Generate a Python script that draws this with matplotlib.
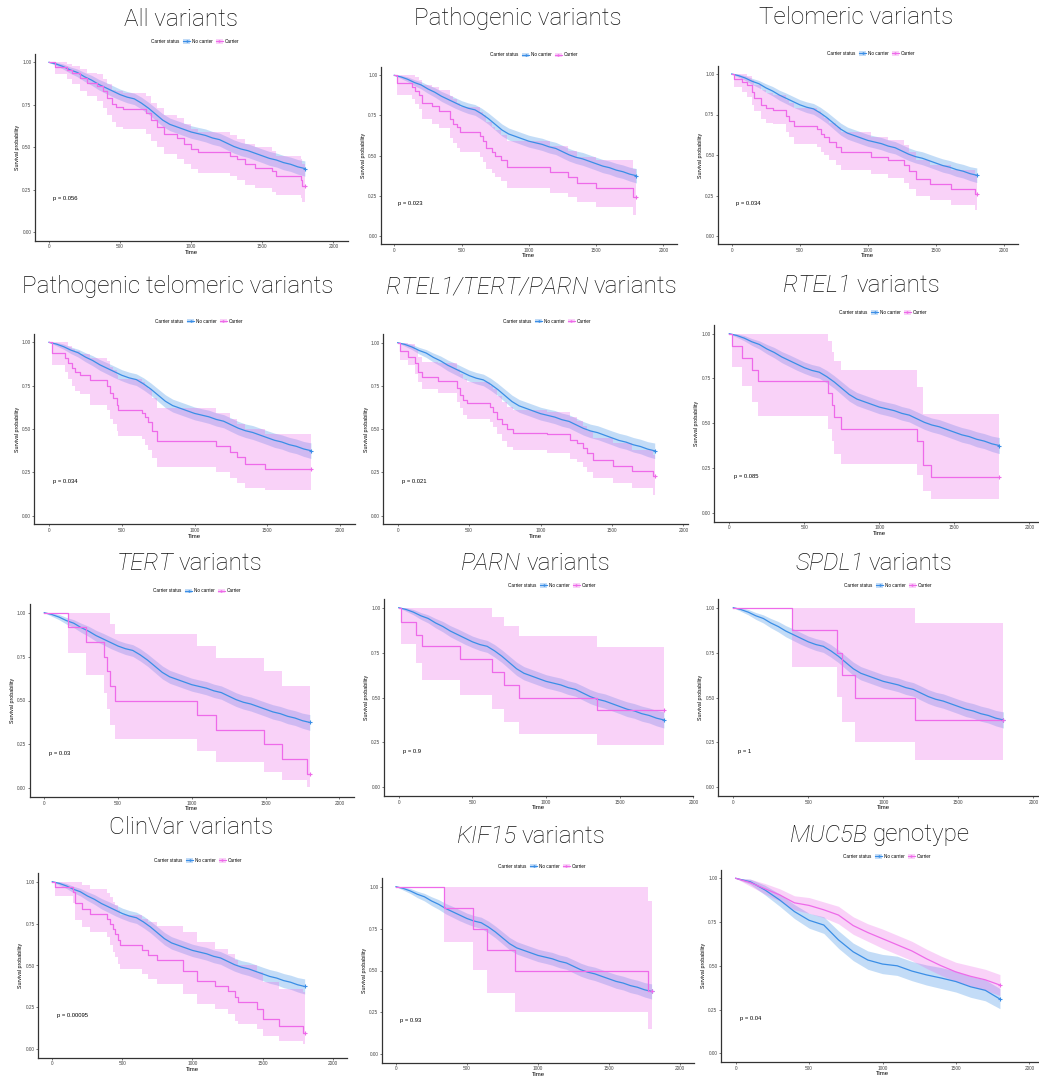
import matplotlib
matplotlib.use('Agg')
import matplotlib.pyplot as plt
from matplotlib.patches import Patch
from matplotlib.lines import Line2D

plt.rcParams['font.family'] = ['Liberation Sans', 'DejaVu Sans']

BLUE = '#3a8ee6'
PINK = '#ee6ae9'
T_END = 1800
TITLE_FONT = 'Roboto'

# ---- data ----
# title = italic gene part + plain part
TITLE_IT = ['', '', '', '', 'RTEL1/TERT/PARN', 'RTEL1', 'TERT', 'PARN', 'SPDL1', '', 'KIF15', 'MUC5B']
TITLE_RM = ['All variants', 'Pathogenic variants', 'Telomeric variants',
            'Pathogenic telomeric variants', 'variants', 'variants', 'variants', 'variants',
            'variants', 'ClinVar variants', 'variants', 'genotype']
P_VALUES = ['0.056', '0.023', '0.034', '0.034', '0.021', '0.085',
            '0.03', '0.9', '1', '0.00095', '0.93', '0.04']

# no carrier (nearly the same in the first 11 panels)
NC_T = [0, 50, 100, 150, 200, 250, 300, 350, 400, 450, 500, 550, 600, 650, 700, 750, 800, 850, 900,
        950, 1000, 1050, 1100, 1150, 1200, 1250, 1300, 1350, 1400, 1450, 1500, 1550, 1600, 1650,
        1700, 1750, 1800]
NC_S = [1.00, 0.99, 0.975, 0.955, 0.94, 0.915, 0.895, 0.87, 0.85, 0.83, 0.81, 0.795, 0.785, 0.76,
        0.73, 0.695, 0.66, 0.635, 0.62, 0.605, 0.59, 0.58, 0.57, 0.555, 0.545, 0.525, 0.505, 0.49,
        0.48, 0.465, 0.45, 0.435, 0.425, 0.41, 0.40, 0.385, 0.375]
NC_LO = [1.00, 0.98, 0.96, 0.935, 0.915, 0.888, 0.865, 0.838, 0.817, 0.796, 0.778, 0.762, 0.751,
         0.725, 0.695, 0.659, 0.623, 0.598, 0.583, 0.568, 0.553, 0.543, 0.532, 0.517, 0.507, 0.486,
         0.466, 0.451, 0.44, 0.425, 0.41, 0.394, 0.384, 0.368, 0.358, 0.342, 0.33]
NC_HI = [1.00, 1.00, 0.99, 0.973, 0.96, 0.94, 0.923, 0.90, 0.882, 0.862, 0.842, 0.828, 0.818,
         0.795, 0.765, 0.731, 0.697, 0.672, 0.657, 0.642, 0.627, 0.617, 0.608, 0.593, 0.583, 0.564,
         0.544, 0.529, 0.52, 0.505, 0.49, 0.476, 0.466, 0.452, 0.442, 0.428, 0.42]

ALL_T = [0, 40, 130, 160, 220, 270, 340, 380, 410, 440, 470, 520, 680, 720, 760, 810, 900, 950,
         1000, 1050, 1270, 1320, 1380, 1450, 1570, 1600, 1770, 1780]
ALL_S = [1.00, .975, .955, .935, .905, .88, .86, .83, .79, .755, .735, .725, .70, .66, .62, .58,
         .555, .52, .49, .47, .45, .43, .40, .38, .36, .33, .31, .27]
ALL_LO = [1.00, .93, .90, .87, .83, .80, .77, .73, .69, .65, .62, .61, .58, .54, .50, .46, .43,
          .40, .37, .35, .33, .31, .28, .26, .24, .22, .20, .18]
ALL_HI = [1.00, 1.00, .99, .98, .96, .94, .93, .90, .87, .84, .83, .82, .80, .76, .73, .69, .67,
          .64, .61, .59, .57, .55, .52, .50, .48, .45, .43, .40]

PATH_T = [0, 22, 130, 155, 180, 205, 280, 330, 415, 440, 465, 490, 640, 660, 685, 725, 750, 790,
          840, 1160, 1290, 1360, 1500, 1775]
PATH_S = [1.0, .95, .93, .905, .88, .83, .81, .78, .73, .70, .68, .65, .62, .59, .55, .52, .50,
          .47, .43, .40, .37, .33, .30, .24]
PATH_LO = [1.0, .88, .85, .82, .79, .73, .70, .67, .61, .58, .55, .52, .49, .46, .42, .39, .37,
           .34, .30, .27, .24, .21, .18, .13]
PATH_HI = [1.0, 1.0, 1.0, .99, .97, .94, .93, .91, .87, .85, .83, .80, .77, .75, .71, .68, .66,
           .63, .59, .56, .53, .49, .47, .42]

TEL_T = [0, 17, 78, 115, 150, 165, 213, 250, 300, 397, 421, 458, 630, 654, 678, 715, 764, 800,
         1020, 1145, 1265, 1300, 1350, 1460, 1610, 1790]
TEL_S = [1.0, .97, .95, .93, .89, .85, .81, .79, .78, .74, .71, .68, .66, .63, .61, .58, .55, .52,
         .49, .47, .44, .40, .35, .32, .29, .26]
TEL_LO = [1.0, .92, .89, .86, .81, .77, .72, .70, .69, .64, .61, .57, .55, .52, .50, .47, .44,
          .41, .38, .36, .33, .29, .25, .22, .19, .16]
TEL_HI = [1.0, 1.0, 1.0, .99, .96, .93, .90, .88, .87, .84, .82, .79, .77, .75, .73, .70, .67,
          .64, .61, .59, .56, .52, .47, .44, .41, .38]

PTEL_T = [0, 18, 110, 133, 156, 179, 213, 282, 396, 419, 442, 465, 476, 637, 660, 683, 706, 740,
          1150, 1245, 1290, 1345, 1485]
PTEL_S = [1.0, .94, .91, .88, .85, .83, .81, .78, .75, .71, .68, .64, .61, .59, .57, .54, .49,
          .43, .40, .37, .34, .30, .27]
PTEL_LO = [1.0, .87, .83, .79, .75, .72, .70, .64, .61, .56, .53, .49, .46, .44, .41, .38, .33,
           .28, .25, .22, .19, .16, .15]
PTEL_HI = [1.0, 1.0, 1.0, .98, .96, .95, .93, .91, .89, .86, .84, .81, .79, .77, .75, .73, .68,
           .62, .59, .56, .53, .50, .47]

RTP_T = [0, 16, 75, 121, 145, 168, 285, 413, 436, 460, 483, 646, 670, 693, 728, 763, 810, 1043,
         1207, 1253, 1300, 1323, 1370, 1510, 1638, 1790]
RTP_S = [1.0, .95, .92, .88, .83, .80, .78, .74, .70, .67, .65, .63, .60, .56, .53, .50, .48, .47,
         .44, .42, .39, .36, .32, .29, .26, .23]
RTP_LO = [1.0, .90, .87, .82, .77, .73, .71, .66, .62, .58, .56, .54, .51, .47, .43, .40, .38,
          .36, .33, .31, .28, .25, .22, .19, .16, .12]
RTP_HI = [1.0, 1.0, .99, .96, .92, .89, .88, .85, .82, .79, .77, .75, .73, .69, .66, .63, .61,
          .60, .57, .55, .52, .49, .45, .42, .38, .35]

RTEL_T = [0, 16, 82, 149, 193, 660, 682, 698, 742, 1249, 1289, 1342]
RTEL_S = [1.0, .93, .865, .80, .733, .667, .60, .533, .467, .40, .267, .20]
RTEL_LO = [1.0, .815, .71, .62, .54, .47, .40, .33, .27, .21, .12, .075]
RTEL_HI = [1.0, 1.0, 1.0, 1.0, 1.0, .96, .90, .85, .80, .70, .55, .55]

TERT_T = [0, 163, 282, 405, 423, 445, 479, 1033, 1164, 1492, 1611, 1779]
TERT_S = [1.0, .917, .833, .75, .667, .583, .50, .417, .333, .25, .167, .083]
TERT_LO = [1.0, .77, .645, .545, .45, .36, .28, .21, .15, .09, .045, .01]
TERT_HI = [1.0, 1.0, 1.0, 1.0, 1.0, .935, .877, .81, .74, .668, .585, .585]

PARN_T = [0, 13, 118, 158, 415, 635, 713, 818, 1346]
PARN_S = [1.0, .923, .846, .786, .714, .643, .571, .50, .43]
PARN_LO = [1.0, .80, .69, .597, .514, .434, .362, .297, .236]
PARN_HI = [1.0, 1.0, 1.0, 1.0, 1.0, .946, .898, .842, .78]

SPDL_T = [0, 393, 689, 722, 813, 1213]
SPDL_S = [1.0, .875, .75, .625, .50, .375]
SPDL_LO = [1.0, .672, .505, .365, .252, .152]
SPDL_HI = [1.0, 1.0, 1.0, 1.0, 1.0, .917]

CLIN_T = [0, 19, 150, 162, 209, 269, 388, 411, 435, 447, 471, 483, 637, 685, 744, 935, 1030,
          1160, 1256, 1303, 1327, 1458, 1505, 1620, 1790]
CLIN_S = [1.0, .97, .94, .875, .84, .81, .78, .75, .72, .69, .65, .62, .59, .56, .53, .47, .41,
          .38, .35, .31, .28, .24, .18, .14, .10]
CLIN_LO = [1.0, .915, .87, .77, .73, .70, .67, .62, .58, .55, .51, .48, .45, .42, .39, .33, .27,
           .24, .21, .17, .15, .12, .08, .05, .03]
CLIN_HI = [1.0, 1.0, 1.0, 1.0, .98, .955, .93, .91, .88, .86, .83, .80, .78, .76, .735, .70,
           .64, .60, .57, .53, .50, .46, .40, .36, .34]

KIF_T = [0, 340, 540, 638, 836, 1772]
KIF_S = [1.0, .875, .75, .625, .50, .375]
KIF_LO = [1.0, .672, .505, .365, .252, .152]
KIF_HI = [1.0, 1.0, 1.0, 1.0, 1.0, .917]

MUC_T = [0, 100, 200, 300, 400, 500, 600, 700, 800, 900, 1000, 1100, 1200, 1300, 1400, 1500,
         1600, 1700, 1800]
MUC_NC_S = [1.0, .98, .933, .876, .81, .76, .733, .648, .58, .533, .51, .50, .47, .448, .43,
            .41, .38, .36, .31]
MUC_NC_LO = [1.0, .965, .905, .84, .77, .715, .685, .60, .53, .48, .455, .445, .415, .39, .37,
             .35, .32, .30, .255]
MUC_NC_HI = [1.0, .995, .96, .91, .85, .80, .78, .70, .63, .585, .565, .555, .525, .505, .49,
             .47, .44, .42, .37]
MUC_C_S = [1.0, .975, .94, .905, .86, .845, .82, .79, .73, .69, .655, .62, .585, .54, .50, .465,
           .44, .42, .39]
MUC_C_LO = [1.0, .955, .91, .87, .82, .80, .775, .74, .68, .64, .60, .565, .53, .485, .445,
            .41, .385, .36, .33]
MUC_C_HI = [1.0, .995, .97, .94, .90, .89, .865, .84, .78, .74, .71, .675, .64, .595, .555,
            .52, .50, .48, .45]

NC = (NC_T, NC_S, NC_LO, NC_HI)
MUC_NC = (MUC_T, MUC_NC_S, MUC_NC_LO, MUC_NC_HI)
# (no carrier, carrier, carrier drawn as steps?)
PANELS = [
    (NC, (ALL_T, ALL_S, ALL_LO, ALL_HI), True),
    (NC, (PATH_T, PATH_S, PATH_LO, PATH_HI), True),
    (NC, (TEL_T, TEL_S, TEL_LO, TEL_HI), True),
    (NC, (PTEL_T, PTEL_S, PTEL_LO, PTEL_HI), True),
    (NC, (RTP_T, RTP_S, RTP_LO, RTP_HI), True),
    (NC, (RTEL_T, RTEL_S, RTEL_LO, RTEL_HI), True),
    (NC, (TERT_T, TERT_S, TERT_LO, TERT_HI), True),
    (NC, (PARN_T, PARN_S, PARN_LO, PARN_HI), True),
    (NC, (SPDL_T, SPDL_S, SPDL_LO, SPDL_HI), True),
    (NC, (CLIN_T, CLIN_S, CLIN_LO, CLIN_HI), True),
    (NC, (KIF_T, KIF_S, KIF_LO, KIF_HI), True),
    (MUC_NC, (MUC_T, MUC_C_S, MUC_C_LO, MUC_C_HI), False),
]

# ---- layout, in pixels of the 1039x1080 picture ----
W, H = 1039, 1080
# x of t=0, x of t=2000, y of S=1, y of S=0, right end of axis (days)
AX_PX = [(49, 333.3, 62.3, 232.3, 2100), (394.3, 663.3, 75.3, 236, 2100),
         (731.7, 1004, 74, 236, 2100), (49, 340, 342.3, 515.7, 2100),
         (397.7, 683.3, 342.7, 515.7, 2030), (729.3, 1029.3, 333.7, 512.7, 2100),
         (44.3, 339.3, 612.7, 788.3, 2100), (399, 698.1, 607.7, 787.3, 1968),
         (733.3, 1033.3, 607.7, 787.3, 2100), (52.3, 332.7, 881.7, 1049.3, 2100),
         (396, 680, 886.7, 1054.3, 2100), (735.7, 1029.3, 878.3, 1053.3, 2100)]
TITLE_PX = [(181.5, 19), (517.5, 18.3), (856.5, 17.3), (178, 286.7), (531.7, 286.7),
            (861.7, 285), (189, 563), (535.5, 563), (874, 563), (191, 828), (531, 836.7),
            (880, 835)]
LEGEND_PX = [(191, 41.3), (530, 55), (867, 53.3), (195, 321), (543, 321), (879, 312.3),
             (193, 591), (548, 585.7), (884, 585.7), (194, 860.7), (538, 866), (883, 856.7)]


def band(ax, curve, color, steps):
    t, s, lo, hi = curve
    if steps:
        x = list(t) + [T_END]
        ax.fill_between(x, list(lo) + [lo[-1]], list(hi) + [hi[-1]], step='post',
                        color=color, alpha=0.3, linewidth=0)
        return x, list(s) + [s[-1]]
    ax.fill_between(t, lo, hi, color=color, alpha=0.3, linewidth=0)
    return list(t), list(s)


fig = plt.figure(figsize=(W / 100, H / 100), dpi=100)
title_parts = []

for i, (nc, car, car_steps) in enumerate(PANELS):
    x0, x2000, y1, y0, xmax = AX_PX[i]
    sx = (x2000 - x0) / 2000.0
    sy = y0 - y1
    left = x0 - 100 * sx
    right = x0 + xmax * sx
    top = y1 - 0.05 * sy
    bottom = y0 + 0.05 * sy
    ax = fig.add_axes([left / W, 1 - bottom / H, (right - left) / W, (bottom - top) / H])

    xb, yb = band(ax, nc, BLUE, False)
    xp, yp = band(ax, car, PINK, car_steps)
    ax.plot(xb, yb, color=BLUE, lw=0.9)
    ax.plot(xp, yp, color=PINK, lw=0.9, drawstyle='steps-post' if car_steps else 'default')
    ax.plot([xb[-1]], [yb[-1]], '+', color=BLUE, ms=3, mew=0.8)
    ax.plot([xp[-1]], [yp[-1]], '+', color=PINK, ms=3, mew=0.8)

    ax.set_xlim(-100, xmax)
    ax.set_ylim(-0.05, 1.05)
    ax.set_xticks([0, 500, 1000, 1500, 2000])
    ax.set_yticks([0, 0.25, 0.5, 0.75, 1.0])
    ax.set_yticklabels(['0.00', '0.25', '0.50', '0.75', '1.00'])
    for side in ['top', 'right']:
        ax.spines[side].set_visible(False)
    for side in ['left', 'bottom']:
        ax.spines[side].set_color('#333333')
        ax.spines[side].set_linewidth(0.9)
    ax.tick_params(length=1.5, width=0.5, labelsize=3.4, pad=1, colors='#444444')
    ax.set_xlabel('Time', fontsize=4.3, labelpad=0.5)
    ax.set_ylabel('Survival probability', fontsize=3.8, labelpad=1.5)
    ax.text(30, 0.2, 'p = ' + P_VALUES[i], fontsize=4.2, va='center')

    tx, ty = TITLE_PX[i]
    parts = []
    if TITLE_IT[i]:
        parts.append(fig.text(0, 1 - ty / H, TITLE_IT[i], family=TITLE_FONT, style='italic',
                              weight='light', fontsize=17.5, va='center', ha='left',
                              color='#111111'))
    parts.append(fig.text(0, 1 - ty / H, TITLE_RM[i], family=TITLE_FONT, weight='light',
                          fontsize=17.5, va='center', ha='left', color='#111111'))
    title_parts.append((tx, parts))

    handles = [Line2D([], [], alpha=0),
               (Patch(facecolor=BLUE, alpha=0.3), Line2D([], [], color=BLUE, lw=0.8, marker='+', ms=2)),
               (Patch(facecolor=PINK, alpha=0.3), Line2D([], [], color=PINK, lw=0.8, marker='+', ms=2))]
    lx, ly = LEGEND_PX[i]
    ax.legend(handles, ['Carrier status', 'No carrier', 'Carrier'], ncol=3, fontsize=3.3,
              frameon=False, loc='center', bbox_to_anchor=(lx / W, 1 - ly / H),
              bbox_transform=fig.transFigure, handlelength=1.4, handleheight=1.2,
              handletextpad=0.4, columnspacing=0.8, borderpad=0)

# centre the mixed italic / plain titles
renderer = fig.canvas.get_renderer()
gap = 5
for tx, parts in title_parts:
    widths = [p.get_window_extent(renderer).width for p in parts]
    total = sum(widths) + gap * (len(parts) - 1)
    x = tx - total / 2
    for p, w in zip(parts, widths):
        p.set_x(x / W)
        x += w + gap

fig.savefig('out.png', dpi=100)
